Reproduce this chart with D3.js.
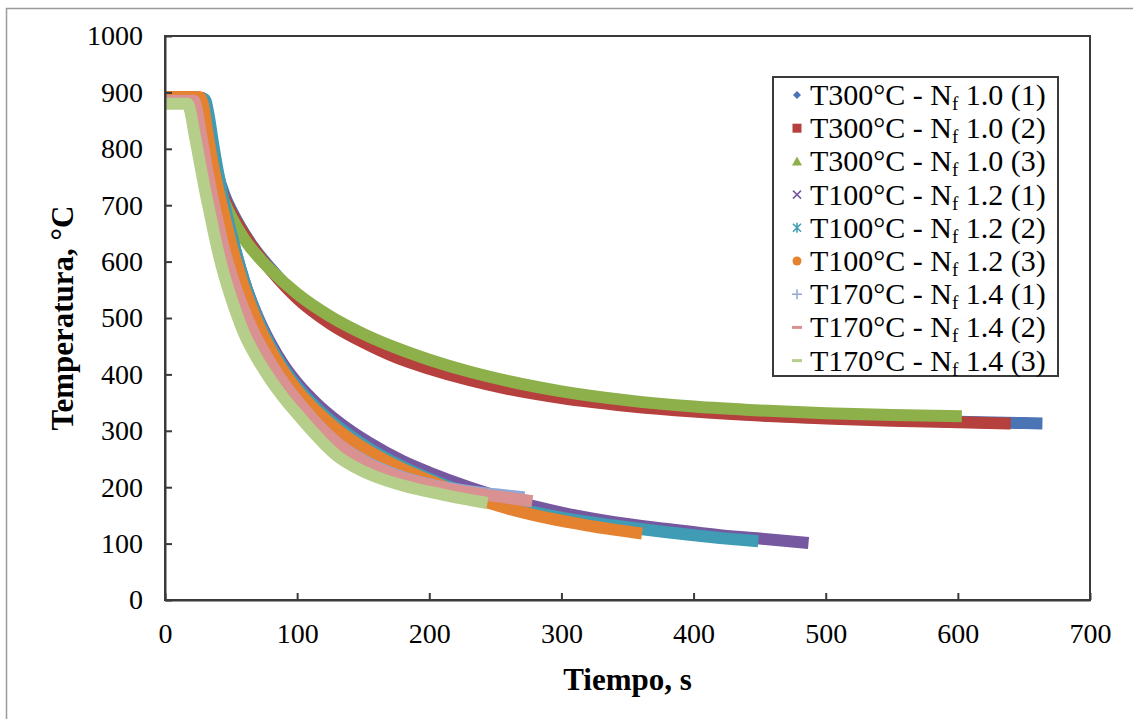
<!DOCTYPE html>
<html>
<head>
<meta charset="utf-8">
<script src="https://cdn.jsdelivr.net/npm/d3@7"></script>
<style>
  body { margin: 0; background: #fff; }
  svg text { font-family: "Liberation Serif", "Times New Roman", serif; fill: #000; }
</style>
</head>
<body>
<div id="chart"></div>
<script>
// series data (tiempo s, temperatura °C)
var s1_t = [0, 28, 32, 36, 40, 45, 50, 60, 70, 80, 100, 125, 150, 175, 200, 230, 260, 300, 350, 400, 450, 500, 550, 600, 664];
var s1_T = [890, 890, 860, 800, 755, 718, 692, 650, 616, 588, 538, 493, 460, 433, 413, 392, 376, 360, 346, 336, 328, 323, 319, 316, 313];
var s2_t = [0, 25, 28, 32, 36, 40, 45, 50, 60, 70, 80, 100, 125, 150, 175, 200, 230, 260, 300, 350, 400, 450, 500, 550, 600, 640];
var s2_T = [888, 888, 880, 830, 780, 745, 712, 688, 648, 614, 585, 535, 490, 457, 430, 410, 390, 374, 358, 344, 334, 327, 322, 318, 315, 313];
var s3_t = [0, 18, 22, 26, 30, 35, 40, 45, 50, 60, 70, 80, 100, 125, 150, 175, 200, 230, 260, 300, 350, 400, 450, 500, 550, 603];
var s3_T = [885, 884, 870, 835, 790, 760, 735, 705, 680, 640, 610, 585, 543, 503, 472, 447, 426, 405, 388, 370, 354, 343, 336, 331, 328, 326];
var s4_t = [0, 28, 31, 34, 38, 42, 47, 52, 60, 70, 80, 90, 100, 115, 130, 155, 180, 200, 230, 260, 300, 340, 380, 420, 450, 487];
var s4_T = [890, 890, 865, 820, 770, 725, 675, 630, 565, 503, 455, 416, 385, 348, 318, 278, 246, 226, 200, 178, 155, 138, 126, 115, 109, 101];
var s5_t = [0, 30, 33, 36, 40, 44, 48, 52, 60, 70, 80, 90, 100, 115, 130, 155, 180, 200, 230, 260, 300, 340, 380, 420, 449];
var s5_T = [888, 888, 860, 815, 760, 712, 670, 632, 565, 500, 450, 410, 378, 340, 309, 268, 236, 215, 188, 166, 146, 132, 120, 110, 104];
var s6_t = [0, 26, 29, 32, 36, 40, 45, 50, 55, 60, 70, 80, 90, 100, 115, 130, 155, 180, 200, 230, 260, 290, 320, 361];
var s6_T = [892, 892, 875, 830, 775, 730, 680, 632, 590, 553, 492, 443, 404, 372, 334, 303, 263, 232, 212, 184, 162, 145, 132, 118];
var s7_t = [0, 20, 23, 26, 30, 34, 39, 44, 50, 57, 65, 75, 85, 95, 105, 118, 132, 150, 175, 200, 230, 260, 272];
var s7_T = [882, 882, 862, 820, 768, 720, 665, 617, 567, 525, 483, 438, 400, 368, 338, 305, 275, 248, 222, 205, 193, 185, 182];
var s8_t = [0, 22, 24, 27, 31, 35, 40, 45, 51, 58, 66, 76, 86, 96, 106, 118, 132, 150, 175, 200, 230, 260, 278];
var s8_T = [885, 885, 870, 830, 775, 725, 670, 620, 572, 525, 480, 436, 398, 365, 337, 305, 275, 246, 220, 204, 191, 181, 175];
var s9_t = [0, 17, 19, 22, 26, 30, 34, 38, 42, 47, 53, 60, 70, 80, 90, 100, 110, 120, 130, 145, 160, 180, 210, 244];
var s9_T = [880, 880, 868, 830, 780, 730, 685, 640, 600, 558, 515, 472, 427, 390, 358, 330, 303, 278, 256, 234, 218, 203, 187, 172];

var seriesTemp = ['T300°C', 'T300°C', 'T300°C', 'T100°C', 'T100°C', 'T100°C', 'T170°C', 'T170°C', 'T170°C'];
var seriesNf = ['1.0', '1.0', '1.0', '1.2', '1.2', '1.2', '1.4', '1.4', '1.4'];
var seriesRun = ['(1)', '(2)', '(3)', '(1)', '(2)', '(3)', '(1)', '(2)', '(3)'];
var xTicks = [0, 100, 200, 300, 400, 500, 600, 700];
var yTicks = [0, 100, 200, 300, 400, 500, 600, 700, 800, 900, 1000];

var colors = ['#4a74b4', '#b5403d', '#8db04a', '#7558a0', '#3f9cb4', '#e5822f', '#8fa8d8', '#d99191', '#b5cf8a'];
var shapes = ['diamond', 'square', 'triangle', 'x', 'star', 'circle', 'plus', 'dash', 'dash'];

var times = [s1_t, s2_t, s3_t, s4_t, s5_t, s6_t, s7_t, s8_t, s9_t];
var temps = [s1_T, s2_T, s3_T, s4_T, s5_T, s6_T, s7_T, s8_T, s9_T];
var series = times.map(function (ts, i) {
  return {
    temp: seriesTemp[i], nf: seriesNf[i], run: seriesRun[i], color: colors[i], shape: shapes[i],
    values: ts.map(function (t, j) { return {t: t, T: temps[i][j]}; })
  };
});

var W = 1133, H = 719;
var margins = {top: 36, left: 165, right: 43, bottom: 119};

var svg = d3.select('#chart').append('svg')
  .attr('width', W)
  .attr('height', H);

// outer frame of the chart area
svg.append('rect')
  .attr('x', 6.5).attr('y', 8.5)
  .attr('width', W + 20).attr('height', H + 20)
  .attr('fill', 'none')
  .attr('stroke', '#9a9a9a')
  .attr('stroke-width', 1.5);

var x = d3.scaleLinear().domain([0, 700]).range([margins.left, W - margins.right]);
var y = d3.scaleLinear().domain([0, 1000]).range([H - margins.bottom, margins.top]);

// series, first one drawn first (later ones on top)
var line = d3.line()
  .x(function (d) { return x(d.t); })
  .y(function (d) { return y(d.T); })
  .curve(d3.curveMonotoneX);

svg.append('g').attr('class', 'body')
  .selectAll('path.series')
  .data(series)
  .enter().append('path')
    .attr('class', 'series')
    .attr('d', function (d) { return line(d.values); })
    .attr('fill', 'none')
    .attr('stroke', function (d) { return d.color; })
    .attr('stroke-width', 12)
    .attr('stroke-linejoin', 'round');

// plot box
svg.append('rect')
  .attr('x', x(0)).attr('y', y(1000))
  .attr('width', x(700) - x(0)).attr('height', y(0) - y(1000))
  .attr('fill', 'none')
  .attr('stroke', '#3a3a3a')
  .attr('stroke-width', 2);

var xAxis = d3.axisBottom(x).tickValues(xTicks).tickFormat(d3.format('d'))
  .tickSizeInner(-7).tickSizeOuter(0).tickPadding(23);
var yAxis = d3.axisLeft(y).tickValues(yTicks).tickFormat(d3.format('d'))
  .tickSizeInner(-7).tickSizeOuter(0).tickPadding(22);

var gx = svg.append('g').attr('class', 'x axis')
  .attr('transform', 'translate(0,' + y(0) + ')')
  .call(xAxis);
var gy = svg.append('g').attr('class', 'y axis')
  .attr('transform', 'translate(' + x(0) + ',0)')
  .call(yAxis);

[gx, gy].forEach(function (g) {
  g.select('.domain').attr('stroke', '#3a3a3a').attr('stroke-width', 2);
  g.selectAll('.tick line').attr('stroke', '#3a3a3a').attr('stroke-width', 2);
  g.selectAll('.tick text')
    .style('font-family', '"Liberation Serif", serif')
    .style('font-size', '28px')
    .attr('fill', '#000');
});

// axis titles
svg.append('text')
  .attr('x', (x(0) + x(700)) / 2)
  .attr('y', 690)
  .attr('text-anchor', 'middle')
  .style('font-size', '31px')
  .style('font-weight', 'bold')
  .text('Tiempo, s');

svg.append('text')
  .attr('transform', 'translate(73,' + ((y(0) + y(1000)) / 2) + ') rotate(-90)')
  .attr('text-anchor', 'middle')
  .style('font-size', '31px')
  .style('font-weight', 'bold')
  .text('Temperatura, °C');

// legend
var legX = 773, legY = 77, legW = 285, legH = 299, rowH = 33.2;
var leg = svg.append('g').attr('class', 'legend');
leg.append('rect')
  .attr('x', legX).attr('y', legY)
  .attr('width', legW).attr('height', legH)
  .attr('fill', '#fff')
  .attr('stroke', '#3a3a3a')
  .attr('stroke-width', 2);

var rows = leg.selectAll('g.row')
  .data(series)
  .enter().append('g')
    .attr('class', 'row')
    .attr('transform', function (d, i) { return 'translate(' + (legX + 24) + ',' + (legY + 18 + i * rowH) + ')'; });

rows.each(function (d) {
  var g = d3.select(this);
  var c = d.color;
  if (d.shape === 'diamond') {
    g.append('path').attr('d', 'M0,-4L4,0L0,4L-4,0Z').attr('fill', c);
  } else if (d.shape === 'square') {
    g.append('rect').attr('x', -4.5).attr('y', -4.5).attr('width', 9).attr('height', 9).attr('fill', c);
  } else if (d.shape === 'triangle') {
    g.append('path').attr('d', 'M0,-5L5,4L-5,4Z').attr('fill', c);
  } else if (d.shape === 'x') {
    g.append('path').attr('d', 'M-4,-4L4,4M-4,4L4,-4').attr('stroke', c).attr('stroke-width', 1.5);
  } else if (d.shape === 'star') {
    g.append('path').attr('d', 'M-4,-4L4,4M-4,4L4,-4M0,-5L0,5').attr('stroke', c).attr('stroke-width', 1.5);
  } else if (d.shape === 'circle') {
    g.append('circle').attr('r', 4.5).attr('fill', c);
  } else if (d.shape === 'plus') {
    g.append('path').attr('d', 'M-5,0L5,0M0,-5L0,5').attr('stroke', c).attr('stroke-width', 1.5);
  } else {
    g.append('path').attr('d', 'M-5,0L5,0').attr('stroke', c).attr('stroke-width', 3);
  }
  var txt = g.append('text')
    .attr('x', 13)
    .attr('y', 10)
    .style('font-size', '30px');
  txt.append('tspan').text(d.temp + ' - N');
  txt.append('tspan').attr('dy', 5).style('font-size', '19px').text('f');
  txt.append('tspan').attr('dy', -5).text(' ' + d.nf + ' ' + d.run);
});
</script>
</body>
</html>
